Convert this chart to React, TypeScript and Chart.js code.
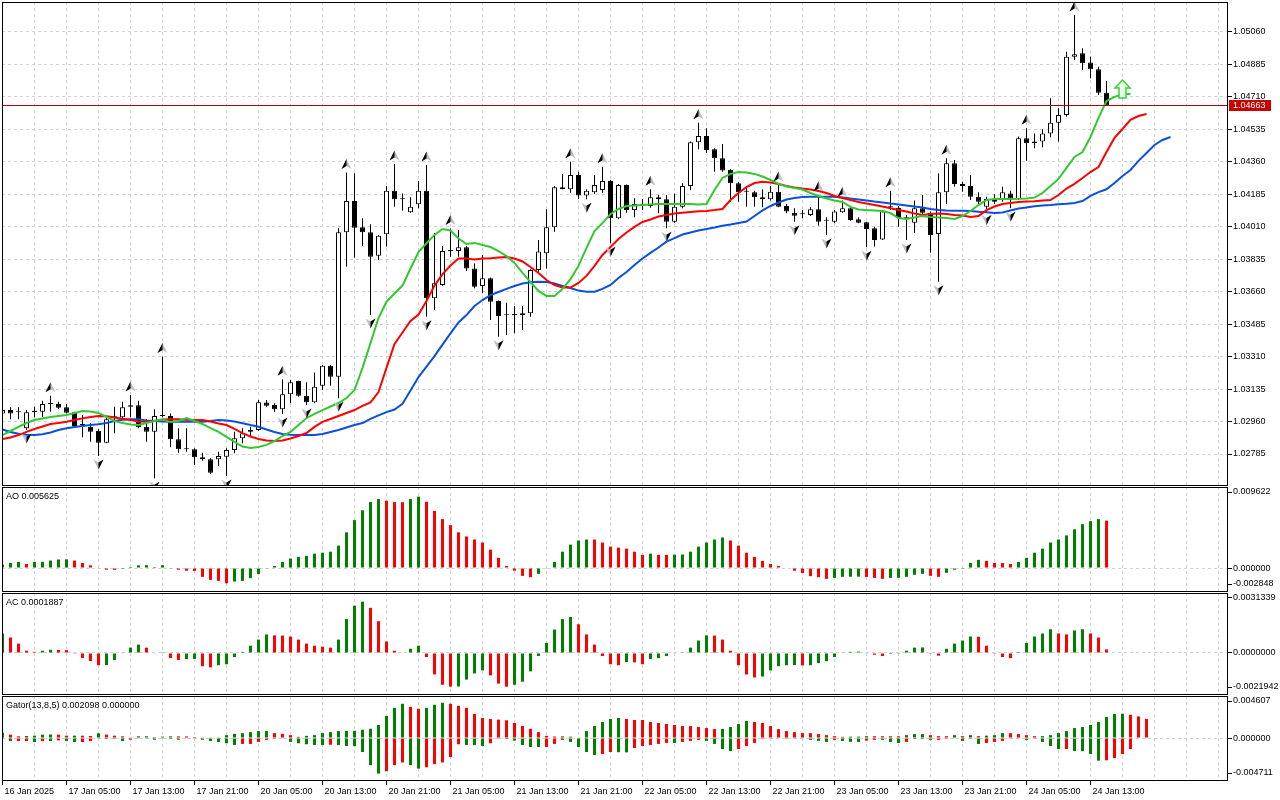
import React, { useEffect, useRef } from "react";
import { Chart, registerables } from "chart.js";

Chart.register(...registerables);

const FONT = "'Liberation Sans', Arial, Helvetica, sans-serif";
const GREEN = "#008000";
const RED = "#ff0000";
const GRID = "#d2d2d2";

// ---------- time axis ----------
const xTickLabels = [
  "16 Jan 2025", "17 Jan 05:00", "17 Jan 13:00", "17 Jan 21:00", "20 Jan 05:00", "20 Jan 13:00",
  "20 Jan 21:00", "21 Jan 05:00", "21 Jan 13:00", "21 Jan 21:00", "22 Jan 05:00", "22 Jan 13:00",
  "22 Jan 21:00", "23 Jan 05:00", "23 Jan 13:00", "23 Jan 21:00", "24 Jan 05:00", "24 Jan 13:00",
];

// ---------- EURUSD H1 candles ----------
const open = [1.03004, 1.03022, 1.03010, 1.02924, 1.03018, 1.03013, 1.03055, 1.03055, 1.03037, 1.03010,
  1.02941, 1.02932, 1.02911, 1.02846, 1.02983, 1.02983, 1.03048, 1.03048, 1.02932, 1.02905,
  1.02990, 1.02990, 1.02864, 1.02812, 1.02810, 1.02767, 1.02757, 1.02757, 1.02770, 1.02807,
  1.02870, 1.02905, 1.02914, 1.03062, 1.03049, 1.03026, 1.03107, 1.03179, 1.03099, 1.03064,
  1.03153, 1.03261, 1.03202, 1.03980, 1.04149, 1.04007, 1.03980, 1.03854, 1.03969, 1.04204,
  1.04158, 1.04088, 1.04131, 1.04204, 1.03624, 1.03696, 1.03879, 1.03879, 1.03899, 1.03785,
  1.03691, 1.03732, 1.03610, 1.03534, 1.03534, 1.03533, 1.03544, 1.03777, 1.03867, 1.04007,
  1.04223, 1.04212, 1.04289, 1.04178, 1.04196, 1.04208, 1.04257, 1.04056, 1.04235, 1.04100,
  1.04133, 1.04122, 1.04169, 1.04158, 1.04037, 1.04118, 1.04230, 1.04465, 1.04499, 1.04428,
  1.04380, 1.04317, 1.04244, 1.04199, 1.04196, 1.04169, 1.04158, 1.04199, 1.04122, 1.04086,
  1.04079, 1.04073, 1.04104, 1.04043, 1.04037, 1.04088, 1.04110, 1.04050, 1.04034, 1.04002,
  1.03942, 1.04115, 1.04113, 1.04056, 1.04032, 1.04110, 1.04086, 1.03971, 1.04196, 1.04353,
  1.04241, 1.04230, 1.04172, 1.04118, 1.04154, 1.04160, 1.04190, 1.04160, 1.04487, 1.04460,
  1.04469, 1.04513, 1.04571, 1.04612, 1.04927, 1.04945, 1.04895, 1.04859, 1.04733];

const high = [1.03026, 1.03037, 1.03037, 1.03022, 1.03040, 1.03072, 1.03099, 1.03067, 1.03055, 1.03013,
  1.02995, 1.02951, 1.02918, 1.02983, 1.03040, 1.03067, 1.03103, 1.03072, 1.02972, 1.03026,
  1.03310, 1.03004, 1.02924, 1.02924, 1.02816, 1.02792, 1.02762, 1.02797, 1.02816, 1.02905,
  1.02924, 1.02932, 1.03076, 1.03076, 1.03058, 1.03188, 1.03185, 1.03180, 1.03172, 1.03225,
  1.03265, 1.03265, 1.04002, 1.04302, 1.04298, 1.04056, 1.04023, 1.03966, 1.04230, 1.04348,
  1.04190, 1.04169, 1.04257, 1.04343, 1.03976, 1.03906, 1.04000, 1.03993, 1.03906, 1.03812,
  1.03858, 1.03736, 1.03613, 1.03601, 1.03583, 1.03583, 1.03781, 1.03939, 1.04104, 1.04230,
  1.04295, 1.04361, 1.04307, 1.04212, 1.04289, 1.04334, 1.04262, 1.04241, 1.04238, 1.04164,
  1.04158, 1.04212, 1.04181, 1.04181, 1.04190, 1.04244, 1.04469, 1.04571, 1.04541, 1.04433,
  1.04456, 1.04320, 1.04253, 1.04230, 1.04204, 1.04212, 1.04230, 1.04235, 1.04133, 1.04110,
  1.04100, 1.04115, 1.04181, 1.04061, 1.04100, 1.04151, 1.04115, 1.04061, 1.04037, 1.04010,
  1.04092, 1.04204, 1.04122, 1.04073, 1.04151, 1.04181, 1.04092, 1.04298, 1.04380, 1.04370,
  1.04253, 1.04289, 1.04196, 1.04172, 1.04185, 1.04226, 1.04204, 1.04496, 1.04541, 1.04513,
  1.04536, 1.04703, 1.04649, 1.04954, 1.05152, 1.04972, 1.04927, 1.04873, 1.04796];

const low = [1.03001, 1.02972, 1.02972, 1.02914, 1.02983, 1.02983, 1.03013, 1.03028, 1.03004, 1.02932,
  1.02875, 1.02851, 1.02774, 1.02843, 1.02897, 1.02977, 1.02983, 1.02924, 1.02851, 1.02654,
  1.02983, 1.02821, 1.02792, 1.02797, 1.02726, 1.02749, 1.02677, 1.02720, 1.02666, 1.02789,
  1.02843, 1.02878, 1.02911, 1.03040, 1.03013, 1.03001, 1.03058, 1.03094, 1.03049, 1.03058,
  1.03130, 1.03153, 1.03085, 1.03795, 1.03843, 1.03906, 1.03534, 1.03831, 1.03903, 1.04118,
  1.04097, 1.04086, 1.04110, 1.03525, 1.03561, 1.03692, 1.03849, 1.03849, 1.03772, 1.03678,
  1.03651, 1.03507, 1.03417, 1.03427, 1.03436, 1.03454, 1.03525, 1.03768, 1.03785, 1.03983,
  1.04212, 1.04194, 1.04160, 1.04158, 1.04187, 1.04194, 1.03921, 1.04050, 1.04086, 1.04061,
  1.04100, 1.04113, 1.04083, 1.04002, 1.04032, 1.04110, 1.04208, 1.04428, 1.04407, 1.04307,
  1.04307, 1.04145, 1.04145, 1.04118, 1.04118, 1.04115, 1.04151, 1.04115, 1.04083, 1.04037,
  1.04056, 1.04068, 1.04015, 1.03966, 1.04029, 1.04086, 1.04043, 1.04029, 1.03899, 1.03903,
  1.03939, 1.04100, 1.04010, 1.03939, 1.03976, 1.04079, 1.03870, 1.03714, 1.04133, 1.04226,
  1.04199, 1.04154, 1.04133, 1.04092, 1.04133, 1.04145, 1.04110, 1.04154, 1.04366, 1.04433,
  1.04439, 1.04492, 1.04469, 1.04603, 1.04909, 1.04855, 1.04810, 1.04720, 1.04661];

const close = [1.03022, 1.03004, 1.03011, 1.03010, 1.03011, 1.03055, 1.03056, 1.03035, 1.03008, 1.02936,
  1.02942, 1.02905, 1.02846, 1.02972, 1.02984, 1.03037, 1.03040, 1.02929, 1.02905, 1.02990,
  1.02992, 1.02864, 1.02810, 1.02810, 1.02767, 1.02757, 1.02684, 1.02774, 1.02807, 1.02870,
  1.02897, 1.02914, 1.03064, 1.03045, 1.03026, 1.03107, 1.03172, 1.03099, 1.03064, 1.03148,
  1.03261, 1.03202, 1.03980, 1.04149, 1.04005, 1.03980, 1.03849, 1.03962, 1.04204, 1.04158,
  1.04160, 1.04118, 1.04204, 1.03624, 1.03705, 1.03879, 1.03881, 1.03899, 1.03785, 1.03687,
  1.03732, 1.03606, 1.03529, 1.03533, 1.03537, 1.03544, 1.03777, 1.03876, 1.04007, 1.04223,
  1.04212, 1.04289, 1.04178, 1.04204, 1.04235, 1.04257, 1.04056, 1.04235, 1.04100, 1.04133,
  1.04129, 1.04169, 1.04158, 1.04037, 1.04118, 1.04230, 1.04465, 1.04499, 1.04424, 1.04380,
  1.04313, 1.04244, 1.04196, 1.04201, 1.04169, 1.04158, 1.04199, 1.04118, 1.04092, 1.04070,
  1.04077, 1.04104, 1.04037, 1.04044, 1.04092, 1.04110, 1.04047, 1.04032, 1.03998, 1.03939,
  1.04092, 1.04117, 1.04056, 1.04057, 1.04110, 1.04086, 1.03966, 1.04196, 1.04353, 1.04240,
  1.04230, 1.04172, 1.04145, 1.04160, 1.04145, 1.04196, 1.04163, 1.04487, 1.04460, 1.04469,
  1.04513, 1.04571, 1.04612, 1.04927, 1.04940, 1.04891, 1.04859, 1.04733, 1.04663];

// ---------- Alligator (drawn with forward shift) ----------
const lips = [1.02887, 1.02909, 1.02931, 1.02952, 1.02968, 1.02976, 1.02985, 1.02990, 1.02995, 1.03006,
  1.03017, 1.03014, 1.03006, 1.02985, 1.02963, 1.02952, 1.02944, 1.02941, 1.02952, 1.02963,
  1.02971, 1.02958, 1.02963, 1.02979, 1.02963, 1.02947, 1.02925, 1.02904, 1.02877, 1.02850,
  1.02825, 1.02817, 1.02823, 1.02834, 1.02855, 1.02882, 1.02904, 1.02941, 1.02979, 1.03001,
  1.03022, 1.03041, 1.03060, 1.03087, 1.03130, 1.03249, 1.03383, 1.03518, 1.03606, 1.03650,
  1.03693, 1.03785, 1.03874, 1.03921, 1.03966, 1.03998, 1.03990, 1.03947, 1.03917, 1.03923,
  1.03912, 1.03901, 1.03879, 1.03852, 1.03815, 1.03761, 1.03712, 1.03664, 1.03637, 1.03637,
  1.03675, 1.03728, 1.03799, 1.03896, 1.03987, 1.04030, 1.04079, 1.04106, 1.04122, 1.04125,
  1.04127, 1.04130, 1.04133, 1.04133, 1.04133, 1.04133, 1.04133, 1.04130, 1.04133, 1.04208,
  1.04273, 1.04295, 1.04305, 1.04303, 1.04295, 1.04281, 1.04262, 1.04241, 1.04227, 1.04219,
  1.04211, 1.04192, 1.04176, 1.04162, 1.04152, 1.04144, 1.04117, 1.04103, 1.04100, 1.04098,
  1.04095, 1.04084, 1.04057, 1.04052, 1.04060, 1.04068, 1.04063, 1.04060, 1.04057, 1.04052,
  1.04068, 1.04095, 1.04127, 1.04154, 1.04160, 1.04160, 1.04160, 1.04161, 1.04163, 1.04167,
  1.04192, 1.04230, 1.04268, 1.04327, 1.04386, 1.04413, 1.04494, 1.04597, 1.04688, 1.04710,
  1.04724, 1.04726];

const teeth = [1.02866, 1.02874, 1.02887, 1.02904, 1.02920, 1.02933, 1.02947, 1.02952, 1.02959, 1.02968,
  1.02977, 1.02985, 1.02990, 1.02988, 1.02982, 1.02975, 1.02968, 1.02960, 1.02959, 1.02963,
  1.02971, 1.02972, 1.02972, 1.02970, 1.02968, 1.02968, 1.02960, 1.02949, 1.02941, 1.02920,
  1.02898, 1.02879, 1.02866, 1.02858, 1.02855, 1.02858, 1.02869, 1.02882, 1.02898, 1.02931,
  1.02958, 1.02974, 1.02990, 1.03006, 1.03022, 1.03044, 1.03063, 1.03119, 1.03249, 1.03378,
  1.03440, 1.03502, 1.03537, 1.03610, 1.03693, 1.03755, 1.03801, 1.03839, 1.03839, 1.03834,
  1.03839, 1.03840, 1.03844, 1.03847, 1.03839, 1.03823, 1.03793, 1.03761, 1.03723, 1.03696,
  1.03683, 1.03682, 1.03707, 1.03745, 1.03799, 1.03858, 1.03901, 1.03944, 1.03979, 1.04009,
  1.04036, 1.04049, 1.04065, 1.04073, 1.04082, 1.04086, 1.04090, 1.04093, 1.04095, 1.04100,
  1.04106, 1.04154, 1.04192, 1.04224, 1.04246, 1.04253, 1.04249, 1.04241, 1.04230, 1.04222,
  1.04216, 1.04211, 1.04203, 1.04192, 1.04176, 1.04165, 1.04154, 1.04144, 1.04135, 1.04127,
  1.04119, 1.04110, 1.04100, 1.04092, 1.04082, 1.04073, 1.04079, 1.04082, 1.04079, 1.04073,
  1.04071, 1.04063, 1.04068, 1.04100, 1.04119, 1.04133, 1.04138, 1.04144, 1.04146, 1.04148,
  1.04152, 1.04154, 1.04181, 1.04216, 1.04241, 1.04273, 1.04305, 1.04332, 1.04413, 1.04489,
  1.04537, 1.04586, 1.04607, 1.04618];

const jaw = [1.02917, 1.02904, 1.02894, 1.02889, 1.02887, 1.02891, 1.02901, 1.02914, 1.02924, 1.02931,
  1.02936, 1.02941, 1.02945, 1.02952, 1.02963, 1.02970, 1.02972, 1.02972, 1.02966, 1.02963,
  1.02960, 1.02959, 1.02959, 1.02959, 1.02959, 1.02959, 1.02963, 1.02968, 1.02966, 1.02960,
  1.02951, 1.02941, 1.02932, 1.02917, 1.02904, 1.02893, 1.02889, 1.02887, 1.02887, 1.02887,
  1.02893, 1.02904, 1.02914, 1.02928, 1.02941, 1.02952, 1.02974, 1.02993, 1.03011, 1.03025,
  1.03056, 1.03127, 1.03200, 1.03256, 1.03313, 1.03375, 1.03435, 1.03494, 1.03534, 1.03583,
  1.03615, 1.03642, 1.03658, 1.03675, 1.03691, 1.03704, 1.03711, 1.03714, 1.03712, 1.03704,
  1.03691, 1.03680, 1.03666, 1.03660, 1.03660, 1.03675, 1.03696, 1.03734, 1.03766, 1.03804,
  1.03839, 1.03869, 1.03898, 1.03930, 1.03949, 1.03968, 1.03979, 1.03990, 1.03998, 1.04006,
  1.04015, 1.04022, 1.04030, 1.04038, 1.04068, 1.04098, 1.04122, 1.04141, 1.04157, 1.04165,
  1.04171, 1.04172, 1.04172, 1.04172, 1.04172, 1.04168, 1.04162, 1.04157, 1.04152, 1.04146,
  1.04141, 1.04135, 1.04130, 1.04125, 1.04119, 1.04114, 1.04106, 1.04100, 1.04098, 1.04097,
  1.04096, 1.04095, 1.04091, 1.04088, 1.04084, 1.04087, 1.04098, 1.04108, 1.04114, 1.04120,
  1.04125, 1.04127, 1.04131, 1.04134, 1.04138, 1.04149, 1.04176, 1.04197, 1.04212, 1.04246,
  1.04284, 1.04316, 1.04365, 1.04408, 1.04451, 1.04478, 1.04494];

// ---------- Fractals & signal ----------
const fractalUp = [6, 16, 20, 35, 43, 49, 53, 56, 71, 75, 81, 87, 97, 102, 105, 111, 118, 128, 134];
const fractalDown = [3, 12, 19, 28, 35, 38, 42, 46, 53, 62, 73, 76, 83, 99, 103, 108, 113, 117, 123, 126];
const signalArrowIndex = 140;
const signalArrowPrice = 1.04704;

// ---------- Price axis ----------
const priceTicks = [1.02785, 1.02960, 1.03135, 1.03310, 1.03485, 1.03660, 1.03835, 1.04010,
  1.04185, 1.04360, 1.04535, 1.04710, 1.04885, 1.05060];
const priceMin = 1.026125;
const priceMax = 1.052217;

// ---------- Awesome Oscillator ----------
const ao = [0.00040, 0.00060, 0.00073, 0.00048, 0.00072, 0.00074, 0.00089, 0.00101, 0.00103, 0.00089,
  0.00060, 0.00032, -0.00005, -0.00020, -0.00022, -0.00012, 0.00012, 0.00032, 0.00034, 0.00012,
  0.00033, -0.00008, -0.00020, -0.00032, -0.00035, -0.00105, -0.00141, -0.00153, -0.00182, -0.00161,
  -0.00153, -0.00121, -0.00073, -0.00008, 0.00024, 0.00073, 0.00113, 0.00133, 0.00145, 0.00170,
  0.00182, 0.00194, 0.00266, 0.00424, 0.00569, 0.00686, 0.00783, 0.00819, 0.00799, 0.00783,
  0.00782, 0.00819, 0.00848, 0.00787, 0.00678, 0.00581, 0.00509, 0.00424, 0.00375, 0.00339,
  0.00303, 0.00218, 0.00121, 0.00024, -0.00032, -0.00093, -0.00109, -0.00069, -0.00008, 0.00073,
  0.00194, 0.00278, 0.00327, 0.00339, 0.00338, 0.00303, 0.00254, 0.00242, 0.00230, 0.00194,
  0.00157, 0.00170, 0.00157, 0.00156, 0.00158, 0.00160, 0.00194, 0.00254, 0.00303, 0.00339,
  0.00363, 0.00327, 0.00266, 0.00182, 0.00133, 0.00085, 0.00048, 0.00024, -0.00006, -0.00032,
  -0.00060, -0.00097, -0.00109, -0.00129, -0.00117, -0.00105, -0.00104, -0.00103, -0.00106, -0.00117,
  -0.00129, -0.00117, -0.00116, -0.00105, -0.00081, -0.00069, -0.00093, -0.00105, -0.00057, -0.00020,
  -0.00010, 0.00060, 0.00097, 0.00085, 0.00060, 0.00059, 0.00048, 0.00073, 0.00121, 0.00182,
  0.00230, 0.00303, 0.00339, 0.00387, 0.00460, 0.00521, 0.00557, 0.00581, 0.005625];
const aoMin = -0.002848;
const aoMax = 0.009622;
const aoTickLabels = ["0.009622", "0.000000", "-0.002848"];

// ---------- Accelerator Oscillator ----------
const ac = [0.00102, 0.00081, 0.00049, 0.00012, 0.00006, 0.00012, 0.00017, 0.00016, 0.00015, -0.00004,
  -0.00026, -0.00042, -0.00064, -0.00063, -0.00037, -0.00002, 0.00028, 0.00044, 0.00028, -0.00002,
  0.00001, -0.00026, -0.00037, -0.00032, -0.00031, -0.00069, -0.00075, -0.00064, -0.00059, -0.00021,
  0.00006, 0.00038, 0.00070, 0.00097, 0.00092, 0.00091, 0.00086, 0.00070, 0.00049, 0.00038,
  0.00033, 0.00028, 0.00070, 0.00177, 0.00247, 0.00268, 0.00236, 0.00166, 0.00060, 0.00012,
  -0.00003, 0.00022, 0.00038, -0.00021, -0.00112, -0.00166, -0.00176, -0.00175, -0.00139, -0.00107,
  -0.00091, -0.00117, -0.00160, -0.00176, -0.00166, -0.00150, -0.00096, -0.00016, 0.00053, 0.00123,
  0.00177, 0.00188, 0.00150, 0.00097, 0.00044, -0.00016, -0.00059, -0.00064, -0.00048, -0.00049,
  -0.00059, -0.00032, -0.00027, -0.00016, -0.00003, 0.00001, 0.00028, 0.00065, 0.00092, 0.00091,
  0.00070, 0.00012, -0.00064, -0.00112, -0.00128, -0.00123, -0.00091, -0.00069, -0.00064, -0.00063,
  -0.00065, -0.00064, -0.00053, -0.00043, -0.00021, 0.00002, 0.00006, 0.00007, -0.00003, -0.00009,
  -0.00016, -0.00005, -0.00001, 0.00012, 0.00028, 0.00029, -0.00004, -0.00014, 0.00022, 0.00049,
  0.00065, 0.00086, 0.00085, 0.00038, -0.00004, -0.00021, -0.00027, 0.00005, 0.00053, 0.00086,
  0.00102, 0.00124, 0.00102, 0.00097, 0.00118, 0.00124, 0.00102, 0.00081, 0.0001887];
const acMin = -0.0021942;
const acMax = 0.0031339;
const acTickLabels = ["0.0031339", "0.0000000", "-0.0021942"];

// ---------- Gator Oscillator ----------
const gatorUpper = [0.000592, 0.000370, 0.000185, 0.000222, 0.000259, 0.000370, 0.000389, 0.000370, 0.000259, 0.000262,
  0.000255, 0.000222, 0.000518, 0.000370, 0.000259, 0.000185, 0.000074, 0.000185, 0.000190, 0.000111,
  0.000148, 0.000185, 0.000180, 0.000178, 0.000111, 0.000074, 0.000072, 0.000080, 0.000315, 0.000463,
  0.000537, 0.000648, 0.000759, 0.000765, 0.000537, 0.000463, 0.000315, 0.000130, 0.000240, 0.000315,
  0.000537, 0.000648, 0.000759, 0.000777, 0.000796, 0.000907, 0.001018, 0.001425, 0.002424, 0.003312,
  0.003756, 0.003423, 0.003201, 0.003312, 0.003645, 0.003867, 0.003756, 0.003534, 0.003312, 0.002646,
  0.002202, 0.002091, 0.002017, 0.001943, 0.001647, 0.001314, 0.001018, 0.000648, 0.000240, 0.000167,
  0.000185, 0.000148, 0.000074, 0.000759, 0.001314, 0.001758, 0.002091, 0.002202, 0.002091, 0.001980,
  0.001975, 0.001758, 0.001647, 0.001536, 0.001425, 0.001314, 0.001310, 0.001203, 0.001092, 0.000981,
  0.000999, 0.001203, 0.001536, 0.001869, 0.001758, 0.001647, 0.001314, 0.000981, 0.000759, 0.000648,
  0.000537, 0.000533, 0.000426, 0.000315, 0.000204, 0.000130, 0.000148, 0.000155, 0.000204, 0.000200,
  0.000196, 0.000192, 0.000189, 0.000315, 0.000426, 0.000429, 0.000315, 0.000204, 0.000200, 0.000315,
  0.000204, 0.000315, 0.000204, 0.000259, 0.000315, 0.000537, 0.000533, 0.000426, 0.000315, 0.000204,
  0.000207, 0.000315, 0.000537, 0.000759, 0.001092, 0.001203, 0.001425, 0.001758, 0.002313, 0.002646,
  0.002664, 0.002553, 0.002368, 0.002098];
const gatorLower = [-0.000074, -0.000333, -0.000333, -0.000333, -0.000444, -0.000333, -0.000335, -0.000259, -0.000333, -0.000444,
  -0.000440, -0.000333, -0.000074, -0.000111, -0.000113, -0.000333, -0.000185, -0.000074, -0.000076, -0.000185,
  -0.000074, -0.000111, -0.000185, -0.000074, -0.000072, -0.000185, -0.000333, -0.000426, -0.000574, -0.000759,
  -0.000648, -0.000646, -0.000426, -0.000204, -0.000093, -0.000074, -0.000426, -0.000574, -0.000685, -0.000759,
  -0.000777, -0.000740, -0.000777, -0.000870, -0.000888, -0.001536, -0.002979, -0.003904, -0.003645, -0.002979,
  -0.002683, -0.002979, -0.003349, -0.003201, -0.002868, -0.002683, -0.002091, -0.000685, -0.000759, -0.000777,
  -0.000870, -0.000574, -0.000093, -0.000111, -0.000278, -0.000759, -0.000981, -0.000984, -0.000977, -0.000648,
  -0.000204, -0.000426, -0.000981, -0.001536, -0.001869, -0.001758, -0.001536, -0.001554, -0.001573, -0.001092,
  -0.000870, -0.000759, -0.000648, -0.000537, -0.000540, -0.000426, -0.000315, -0.000204, -0.000315, -0.000648,
  -0.001203, -0.001425, -0.001203, -0.000870, -0.000537, -0.000111, -0.000074, -0.000056, -0.000093, -0.000037,
  -0.000074, -0.000204, -0.000315, -0.000426, -0.000204, -0.000315, -0.000426, -0.000429, -0.000278, -0.000204,
  -0.000207, -0.000426, -0.000537, -0.000426, -0.000111, -0.000115, -0.000204, -0.000200, -0.000093, -0.000037,
  -0.000315, -0.000093, -0.000648, -0.000537, -0.000426, -0.000315, -0.000074, -0.000037, -0.000204, -0.000074,
  -0.000426, -0.000870, -0.001221, -0.001203, -0.001425, -0.001443, -0.001758, -0.002479, -0.002442, -0.002202,
  -0.001758, -0.001221];
const gatorMin = -0.004711;
const gatorMax = 0.004607;
const gatorTickLabels = ["0.004607", "0.000000", "-0.004711"];

// ---------- layout constants ----------
const X_MIN = -0.0625;
const X_MAX = 153.1875;
const AXIS_W = 52;

Chart.defaults.font.family = FONT;
Chart.defaults.font.size = 9;
Chart.defaults.color = "#000";

function isLabelledTick(v: number): boolean {
  const k = v / 8;
  return Number.isInteger(k) && k < xTickLabels.length;
}

function xAxis(showLabels: boolean): any {
  return {
    type: "linear",
    position: "bottom",
    min: X_MIN,
    max: X_MAX,
    offset: false,
    afterBuildTicks: (s: any) => {
      const t: any[] = [];
      for (let v = 0; v <= 152; v += 4) t.push({ value: v });
      s.ticks = t;
    },
    grid: {
      offset: false,
      drawOnChartArea: true,
      drawTicks: showLabels,
      tickLength: 4,
      lineWidth: 1,
      color: (c: any) => (c.tick && c.tick.value > 0 ? GRID : "rgba(0,0,0,0)"),
      tickColor: (c: any) => (c.tick && isLabelledTick(c.tick.value) ? "#000" : "rgba(0,0,0,0)"),
      tickBorderDash: [],
    },
    border: { display: false, dash: [3, 3] },
    ticks: {
      display: showLabels,
      autoSkip: false,
      maxRotation: 0,
      minRotation: 0,
      align: "start",
      labelOffset: 2,
      padding: 1,
      color: "#000",
      font: { size: 9, family: FONT },
      callback: (v: any) => (isLabelledTick(Number(v)) ? xTickLabels[Number(v) / 8] : ""),
    },
    afterFit: (s: any) => {
      s.height = showLabels ? 19 : 0;
      s.paddingLeft = 0;
      s.paddingRight = 0;
    },
  };
}

function subAxis(min: number, max: number, labels: string[], areaH: number): any {
  const span = max - min;
  const topV = max - (5 / areaH) * span;
  const botV = min + (8 / areaH) * span;
  return {
    type: "linear",
    position: "right",
    min,
    max,
    afterBuildTicks: (s: any) => {
      s.ticks = [{ value: botV }, { value: 0 }, { value: topV }];
    },
    ticks: {
      autoSkip: false,
      padding: 1,
      color: "#000",
      font: { size: 9, family: FONT },
      callback: (v: any) => (v > 0 ? labels[0] : v < 0 ? labels[2] : labels[1]),
    },
    grid: {
      color: (c: any) => (c.tick && c.tick.value === 0 ? GRID : "rgba(0,0,0,0)"),
      tickLength: 4,
      tickColor: "#000",
      tickBorderDash: [],
    },
    border: { display: false, dash: [3, 3] },
    afterFit: (s: any) => {
      s.width = AXIS_W;
      s.paddingTop = 0;
      s.paddingBottom = 0;
    },
  };
}

function framePlugin(caption?: () => string): any {
  return {
    id: "frame",
    afterDraw(chart: any) {
      const { ctx, chartArea: a } = chart;
      ctx.save();
      ctx.strokeStyle = "#000";
      ctx.lineWidth = 1;
      ctx.setLineDash([]);
      ctx.strokeRect(a.left + 0.5, a.top + 0.5, a.right - a.left - 1, a.bottom - a.top - 1);
      if (caption) {
        ctx.fillStyle = "#000";
        ctx.font = `9px ${FONT}`;
        ctx.textAlign = "left";
        ctx.textBaseline = "alphabetic";
        ctx.fillText(caption(), a.left + 4, a.top + 12);
      }
      ctx.restore();
    },
  };
}

function drawFractal(ctx: CanvasRenderingContext2D, cx: number, base: number, up: boolean) {
  const d = up ? -1 : 1;
  const tip = base + d * 10;
  const notch = base + d * 3;
  ctx.beginPath();
  ctx.moveTo(cx, tip);
  ctx.lineTo(cx + 5, base);
  ctx.lineTo(cx, notch);
  ctx.lineTo(cx - 5, base);
  ctx.closePath();
  ctx.fillStyle = "#b9bec8";
  ctx.fill();
  ctx.beginPath();
  ctx.moveTo(cx, tip);
  ctx.lineTo(cx, notch);
  ctx.lineTo(up ? cx - 5 : cx + 5, base);
  ctx.closePath();
  ctx.fillStyle = "#000";
  ctx.fill();
}

const mainOverlay: any = {
  id: "mainOverlay",
  afterDatasetsDraw(chart: any) {
    const { ctx, chartArea: a, scales } = chart;
    const xs = scales.x;
    const ys = scales.y;
    ctx.save();
    ctx.beginPath();
    ctx.rect(a.left, a.top, a.right - a.left, a.bottom - a.top);
    ctx.clip();
    const last = close[close.length - 1];
    const py = Math.floor(ys.getPixelForValue(last)) + 0.5;
    ctx.strokeStyle = "#b40000";
    ctx.lineWidth = 1;
    ctx.beginPath();
    ctx.moveTo(a.left, py);
    ctx.lineTo(a.right, py);
    ctx.stroke();
    fractalUp.forEach((i) => drawFractal(ctx, xs.getPixelForValue(i), ys.getPixelForValue(high[i]) - 3.5, true));
    fractalDown.forEach((i) => drawFractal(ctx, xs.getPixelForValue(i), ys.getPixelForValue(low[i]) + 3.5, false));
    const cx = xs.getPixelForValue(signalArrowIndex);
    const yb = ys.getPixelForValue(signalArrowPrice);
    ctx.beginPath();
    ctx.moveTo(cx, yb - 18);
    ctx.lineTo(cx + 7.5, yb - 10);
    ctx.lineTo(cx + 3.5, yb - 10);
    ctx.lineTo(cx + 3.5, yb);
    ctx.lineTo(cx - 3.5, yb);
    ctx.lineTo(cx - 3.5, yb - 10);
    ctx.lineTo(cx - 7.5, yb - 10);
    ctx.closePath();
    ctx.fillStyle = "#eaffea";
    ctx.fill();
    ctx.strokeStyle = "#3ccf3c";
    ctx.lineWidth = 1.5;
    ctx.stroke();
    ctx.restore();
  },
  afterDraw(chart: any) {
    const { ctx, chartArea: a, scales } = chart;
    const last = close[close.length - 1];
    const y0 = Math.floor(scales.y.getPixelForValue(last));
    ctx.save();
    ctx.fillStyle = "#c80000";
    ctx.fillRect(a.right + 1, y0 - 5, 42, 11);
    ctx.fillStyle = "#fff";
    ctx.font = `9px ${FONT}`;
    ctx.textAlign = "left";
    ctx.textBaseline = "middle";
    ctx.fillText(last.toFixed(5), a.right + 5, y0 + 0.5);
    ctx.restore();
  },
};

function baseOptions(padTop: number, scales: any): any {
  return {
    responsive: false,
    maintainAspectRatio: false,
    animation: false,
    events: [],
    layout: { padding: { left: 2, right: 0, top: padTop, bottom: 0 } },
    plugins: { legend: { display: false }, tooltip: { enabled: false } },
    scales,
  };
}

function risingColors(v: number[], absolute: boolean): string[] {
  return v.map((x, i) => {
    if (i === 0) return GREEN;
    const cur = absolute ? Math.abs(x) : x;
    const prev = absolute ? Math.abs(v[i - 1]) : v[i - 1];
    return cur > prev ? GREEN : RED;
  });
}

function mainConfig(): any {
  const pts = (arr: number[]) => arr.map((v, i) => ({ x: i, y: v }));
  return {
    type: "bar",
    data: {
      datasets: [
        { type: "line", label: "Lips", data: pts(lips), borderColor: "#32c832", borderWidth: 2, pointRadius: 0, tension: 0, order: 0 },
        { type: "line", label: "Teeth", data: pts(teeth), borderColor: "#ff0000", borderWidth: 2, pointRadius: 0, tension: 0, order: 0 },
        { type: "line", label: "Jaw", data: pts(jaw), borderColor: "#0a50dc", borderWidth: 2, pointRadius: 0, tension: 0, order: 0 },
        {
          type: "bar",
          label: "Body",
          data: open.map((o, i) => ({ x: i, y: [o, close[i]] })),
          backgroundColor: (c: any) => (close[c.dataIndex] >= open[c.dataIndex] ? "#ffffff" : "#000000"),
          borderColor: "#000",
          borderWidth: 1,
          borderSkipped: false,
          barThickness: 5,
          minBarLength: 1,
          grouped: false,
          inflateAmount: 0,
          order: 1,
        },
        {
          type: "bar",
          label: "Wick",
          data: low.map((l, i) => ({ x: i, y: [l, high[i]] })),
          backgroundColor: "#000",
          borderWidth: 0,
          barThickness: 1,
          grouped: false,
          inflateAmount: 0,
          order: 2,
        },
      ],
    },
    options: baseOptions(2, {
      x: xAxis(false),
      y: {
        type: "linear",
        position: "right",
        min: priceMin,
        max: priceMax,
        afterBuildTicks: (s: any) => {
          s.ticks = priceTicks.map((v) => ({ value: v }));
        },
        ticks: { autoSkip: false, padding: 1, color: "#000", font: { size: 9, family: FONT }, callback: (v: any) => Number(v).toFixed(5) },
        grid: { color: GRID, tickLength: 4, tickColor: "#000", tickBorderDash: [] },
        border: { display: false, dash: [3, 3] },
        afterFit: (s: any) => {
          s.width = AXIS_W;
          s.paddingTop = 0;
          s.paddingBottom = 0;
        },
      },
    }),
    plugins: [mainOverlay, framePlugin()],
  };
}

function histDataset(label: string, values: number[], colors: string[]): any {
  return {
    type: "bar",
    label,
    data: values.map((v, i) => ({ x: i, y: v })),
    backgroundColor: colors,
    borderWidth: 0,
    barThickness: 3,
    grouped: false,
    inflateAmount: 0,
  };
}

function aoConfig(): any {
  return {
    type: "bar",
    data: { datasets: [histDataset("AO", ao, risingColors(ao, false))] },
    options: baseOptions(0, { x: xAxis(false), y: subAxis(aoMin, aoMax, aoTickLabels, 105) }),
    plugins: [framePlugin(() => `AO ${ao[ao.length - 1].toFixed(6)}`)],
  };
}

function acConfig(): any {
  return {
    type: "bar",
    data: { datasets: [histDataset("AC", ac, risingColors(ac, false))] },
    options: baseOptions(0, { x: xAxis(false), y: subAxis(acMin, acMax, acTickLabels, 102) }),
    plugins: [framePlugin(() => `AC ${ac[ac.length - 1].toFixed(7)}`)],
  };
}

function gatorConfig(): any {
  const lastIdx = gatorUpper.length - 1;
  return {
    type: "bar",
    data: {
      datasets: [
        histDataset("Upper", gatorUpper, risingColors(gatorUpper, false)),
        histDataset("Lower", gatorLower, risingColors(gatorLower, true)),
      ],
    },
    options: baseOptions(0, { x: xAxis(true), y: subAxis(gatorMin, gatorMax, gatorTickLabels, 85) }),
    plugins: [
      framePlugin(
        () => `Gator(13,8,5) ${gatorUpper[lastIdx].toFixed(6)} ${(gatorLower[lastIdx] ?? 0).toFixed(6)}`
      ),
    ],
  };
}

export default function App() {
  const mainRef = useRef<HTMLCanvasElement>(null);
  const aoRef = useRef<HTMLCanvasElement>(null);
  const acRef = useRef<HTMLCanvasElement>(null);
  const gatorRef = useRef<HTMLCanvasElement>(null);

  useEffect(() => {
    const charts = [
      new Chart(mainRef.current as HTMLCanvasElement, mainConfig()),
      new Chart(aoRef.current as HTMLCanvasElement, aoConfig()),
      new Chart(acRef.current as HTMLCanvasElement, acConfig()),
      new Chart(gatorRef.current as HTMLCanvasElement, gatorConfig()),
    ];
    return () => charts.forEach((c) => c.destroy());
  }, []);

  const cs = (top: number, h: number): React.CSSProperties => ({
    position: "absolute",
    left: 0,
    top,
    width: 1280,
    height: h,
    display: "block",
  });

  return (
    <div
      style={{
        position: "fixed",
        left: 0,
        top: 0,
        width: 1280,
        height: 800,
        background: "#ffffff",
        overflow: "hidden",
      }}
    >
      <canvas ref={mainRef} width={1280} height={486} style={cs(0, 486)} />
      <canvas ref={aoRef} width={1280} height={105} style={cs(487, 105)} />
      <canvas ref={acRef} width={1280} height={102} style={cs(593, 102)} />
      <canvas ref={gatorRef} width={1280} height={104} style={cs(696, 104)} />
    </div>
  );
}
